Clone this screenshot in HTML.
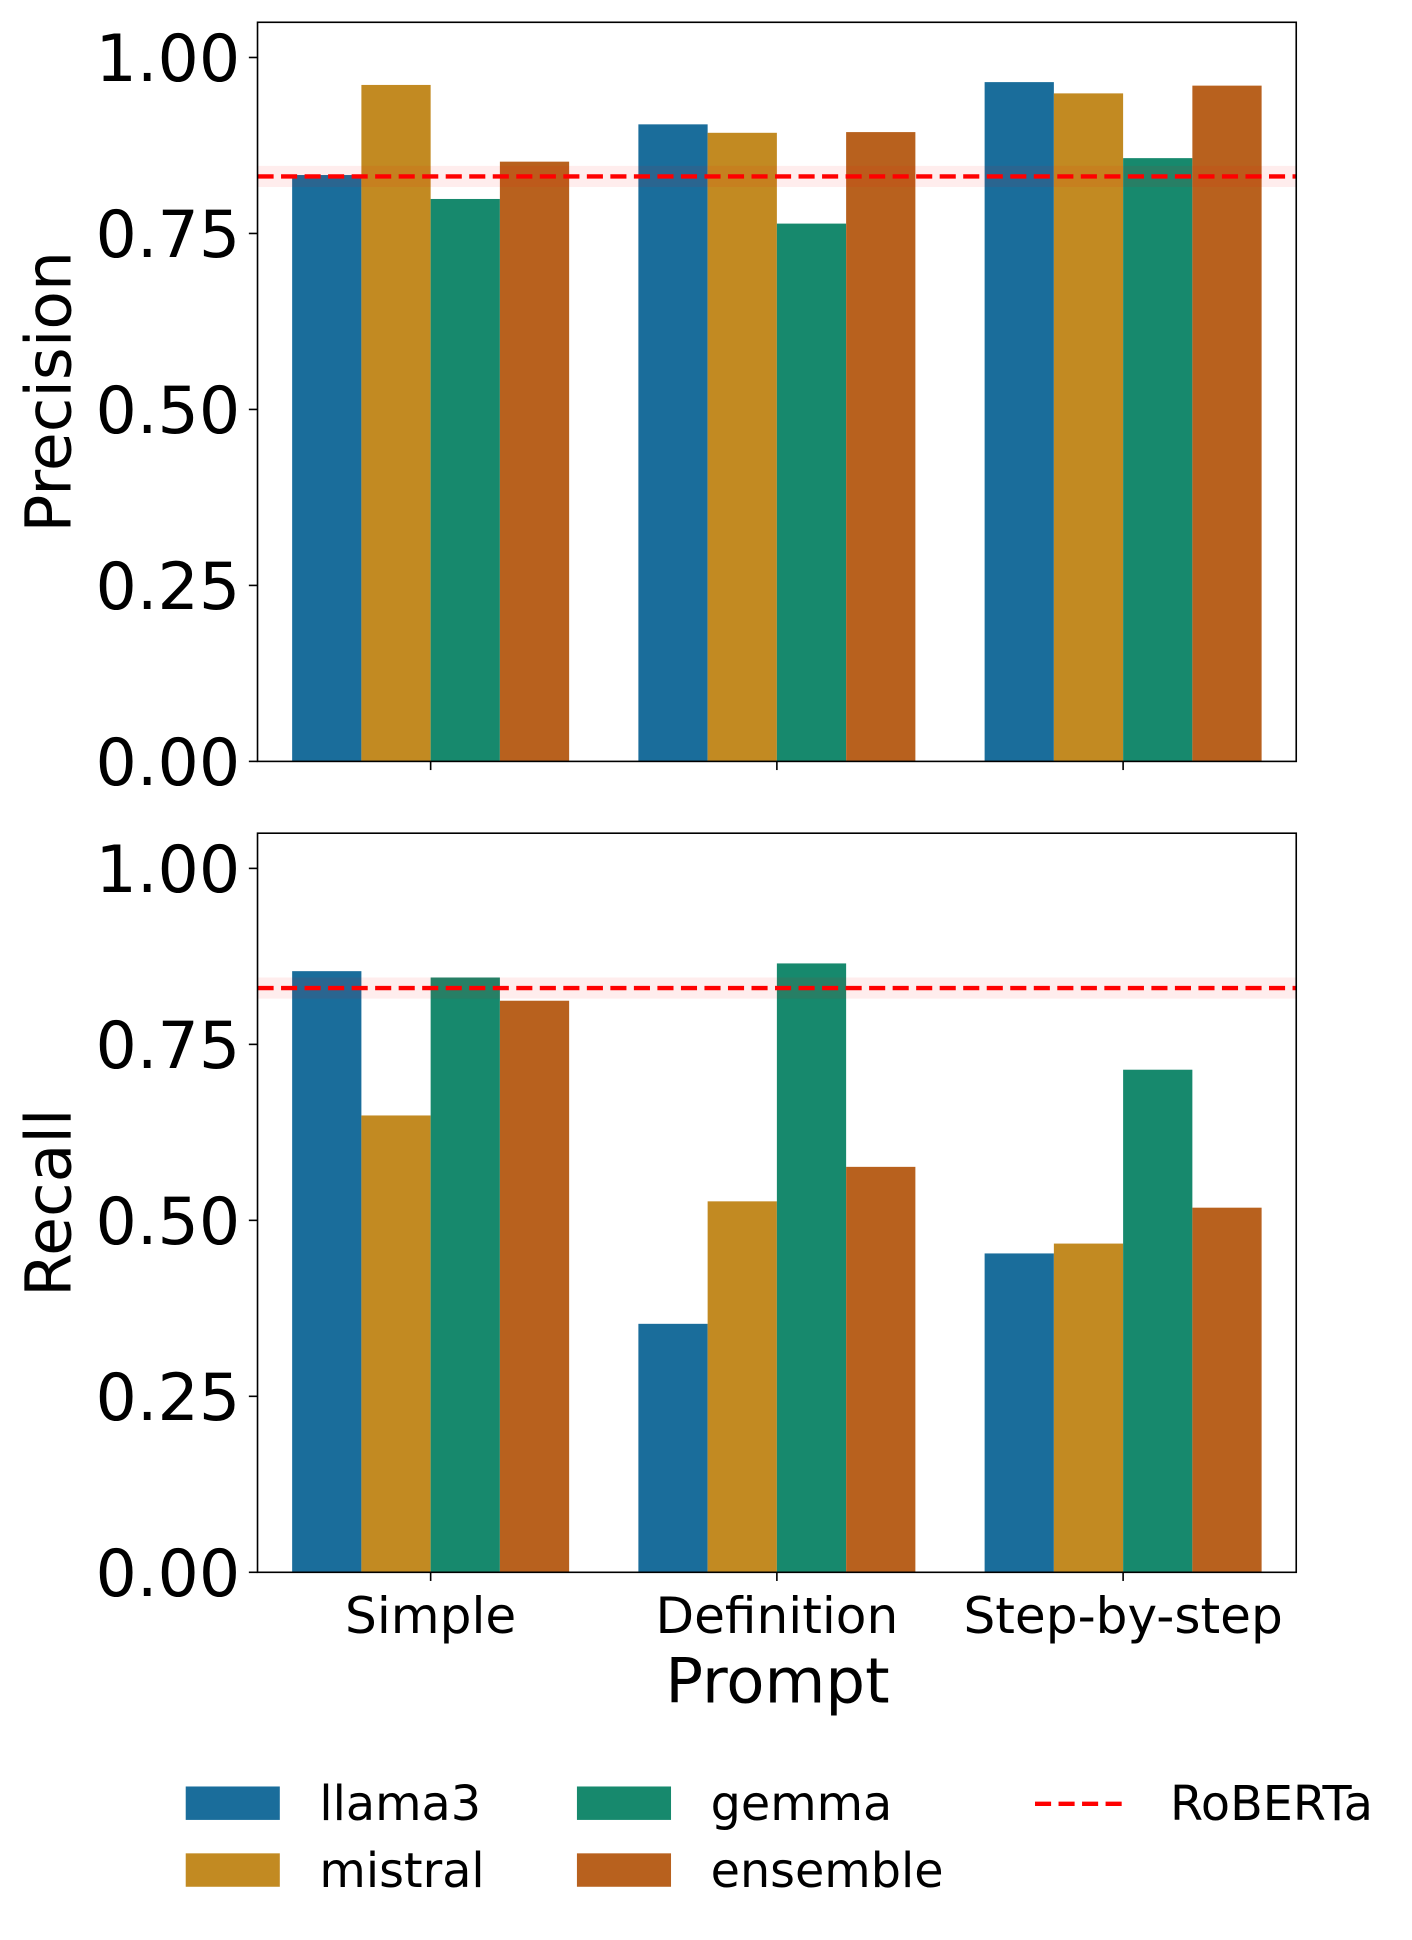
<!DOCTYPE html>
<html><head><meta charset="utf-8"><style>
html,body{margin:0;padding:0;background:#fff;}
svg{display:block;font-family:"DejaVu Sans","Liberation Sans",sans-serif;}
</style></head><body>
<svg id="chart" width="1412" height="1940" viewBox="0 0 1140.5 1567" xmlns="http://www.w3.org/2000/svg"></svg>
<script>
const categories = ["Simple", "Definition", "Step-by-step"];
const models = ["llama3", "mistral", "gemma", "ensemble"];
const colors = ["#1a6d9b", "#c28a22", "#17896d", "#b8611e"];
const precisionLlama3 = [0.833, 0.905, 0.965];
const precisionMistral = [0.961, 0.893, 0.949];
const precisionGemma = [0.799, 0.764, 0.857];
const precisionEnsemble = [0.852, 0.894, 0.960];
const recallLlama3 = [0.854, 0.353, 0.453];
const recallMistral = [0.649, 0.527, 0.467];
const recallGemma = [0.845, 0.865, 0.714];
const recallEnsemble = [0.812, 0.576, 0.518];
const robertaPrecision = 0.831;
const robertaRecall = 0.830;
const robertaBand = 0.015;
const yTicks = [0, 0.25, 0.5, 0.75, 1.0];
const yTickLabels = ["0.00", "0.25", "0.50", "0.75", "1.00"];

const NS = "http://www.w3.org/2000/svg";
const svg = document.getElementById("chart");
function mk(tag, attrs, parent) {
  const e = document.createElementNS(NS, tag);
  for (const k in attrs) e.setAttribute(k, attrs[k]);
  (parent || svg).appendChild(e);
  return e;
}
const X0 = 208, X1 = 1047, XMIN = -0.5, XMAX = 2.5;
function xs(v) { return X0 + (v - XMIN) / (XMAX - XMIN) * (X1 - X0); }

function panel(top, bottom, series, roberta, yTitle, name, showXLabels) {
  const g = mk("g", {});
  
  
  const ymax = 1.05;
  const ys = v => bottom - v / ymax * (bottom - top);
  series.forEach((vals, si) => {
    vals.forEach((v, ci) => {
      const xc = ci + (si - 1.5) * 0.2;
      const r = mk("rect", {x: xs(xc - 0.1), y: ys(v), width: xs(0.2) - xs(0), height: bottom - ys(v), fill: colors[si]}, g);
      
      
    });
  });
  const band = mk("rect", {x: X0, y: ys(roberta + robertaBand), width: X1 - X0, height: ys(roberta - robertaBand) - ys(roberta + robertaBand), fill: "#ff0000", "fill-opacity": 0.07}, g);
  
  
  const ln = mk("line", {x1: X0, x2: X1, y1: ys(roberta), y2: ys(roberta), stroke: "#ff0000", "stroke-width": 3.5, "stroke-dasharray": "13 6"}, g);
  
  
  const fr = mk("rect", {x: X0, y: top, width: X1 - X0, height: bottom - top, fill: "none", stroke: "#000", "stroke-width": 1.3}, g);
  
  
  yTicks.forEach((t, i) => {
    mk("line", {x1: X0 - 7, x2: X0, y1: ys(t), y2: ys(t), stroke: "#000", "stroke-width": 1.3}, g);
    const tx = mk("text", {x: X0 - 14, y: ys(t) + 19, "text-anchor": "end", "font-size": 52.5, fill: "#000"}, g);
    tx.textContent = yTickLabels[i];
    
    
  });
  categories.forEach((c, i) => {
    mk("line", {x1: xs(i), x2: xs(i), y1: bottom, y2: bottom + 7, stroke: "#000", "stroke-width": 1.3}, g);
    if (showXLabels) {
      const tx = mk("text", {x: xs(i), y: bottom + 49, "text-anchor": "middle", "font-size": 40.5, fill: "#000"}, g);
      tx.textContent = c;
      
      
    }
  });
  const yt = mk("text", {x: 0, y: 0, "text-anchor": "middle", "font-size": 51, fill: "#000", transform: "translate(57," + ((top + bottom) / 2) + ") rotate(-90)"}, g);
  yt.textContent = yTitle;
  
  
}
panel(18, 615, [precisionLlama3, precisionMistral, precisionGemma, precisionEnsemble], robertaPrecision, "Precision", "precision-panel", false);
panel(673, 1270, [recallLlama3, recallMistral, recallGemma, recallEnsemble], robertaRecall, "Recall", "recall-panel", true);

const xt = mk("text", {x: 628, y: 1375, "text-anchor": "middle", "font-size": 50.5, fill: "#000"});
xt.textContent = "Prompt";



const legend = mk("g", {});


const legPos = [[150, 1457], [150, 1511], [466, 1457], [466, 1511]];
models.forEach((m, i) => {
  const [lx, ly] = legPos[i];
  const r = mk("rect", {x: lx, y: ly - 14, width: 76, height: 27, fill: colors[i]}, legend);
  
  
  const t = mk("text", {x: lx + 108, y: ly + 13, "font-size": 38.5, fill: "#000"}, legend);
  t.textContent = m;
  
  
});
const rl = mk("line", {x1: 836, x2: 912, y1: 1457, y2: 1457, stroke: "#ff0000", "stroke-width": 3.5, "stroke-dasharray": "13 6"}, legend);


const rt = mk("text", {x: 945, y: 1470, "font-size": 38.5, fill: "#000"}, legend);
rt.textContent = "RoBERTa";


</script>
</body></html>
